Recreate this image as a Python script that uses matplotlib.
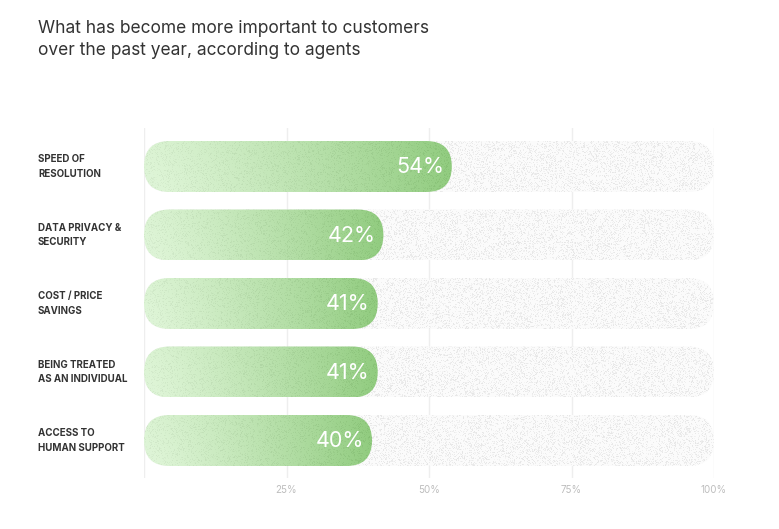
import numpy as np
import matplotlib
matplotlib.use("Agg")
import matplotlib.pyplot as plt
from matplotlib.patches import FancyBboxPatch

categories = ["SPEED OF\nRESOLUTION", "DATA PRIVACY &\nSECURITY", "COST / PRICE\nSAVINGS",
              "BEING TREATED\nAS AN INDIVIDUAL", "ACCESS TO\nHUMAN SUPPORT"]
values = [54, 42, 41, 41, 40]
tick_values = [25, 50, 75, 100]
tick_labels = ["25%", "50%", "75%", "100%"]
title = "What has become more important to customers\nover the past year, according to agents"

plt.rcParams['font.family'] = ['Inter', 'DejaVu Sans']

W, H = 779, 529
fig = plt.figure(figsize=(W / 100, H / 100), dpi=100)
# axes spans 0..100% from x=144 to x=714 px, rows from y=128 to y=478 px
ax = fig.add_axes([144 / W, (H - 478) / H, 570 / W, 350 / H])
n = len(categories)
ax.set_xlim(0, 100)
ax.set_ylim(n - 1 + 37.5 / 68.5, -38.5 / 68.5)
ax.axis("off")

xpx = 570 / 100.0          # px per x unit
ypx = 68.5                 # px per y unit
bar_h = 51 / ypx
r = 25.5 / xpx
aspect = (1 / ypx) / (1 / xpx)

for g in [0, 25, 50, 75, 100]:
    ax.axvline(g, color="#eeeeee", lw=1, zorder=0)

rng = np.random.default_rng(3)


def rounded(x0, w, yc):
    p = FancyBboxPatch((x0, yc - bar_h / 2), w, bar_h,
                       boxstyle=f"round,pad=0,rounding_size={r}",
                       mutation_aspect=aspect, facecolor="none", edgecolor="none")
    ax.add_patch(p)
    return p


for i, (cat, v) in enumerate(zip(categories, values)):
    # grey speckled track
    track = rounded(0, 100, i)
    nw, nh = 570, 51
    base = np.full((nh, nw, 3), 0.985)
    speck = rng.random((nh, nw)) < 0.3
    shade = 0.90 + 0.06 * rng.random((nh, nw))
    base[speck] = shade[speck][:, None]
    im = ax.imshow(base, extent=(0, 100, i + bar_h / 2, i - bar_h / 2),
                   aspect="auto", interpolation="nearest", zorder=1)
    im.set_clip_path(track)

    # green gradient bar
    bar = rounded(0, v, i)
    gw = int(v * xpx)
    t = np.linspace(0, 1, gw)[None, :]
    s = np.linspace(0, 1, nh)[:, None]
    left = np.array([0.87, 0.96, 0.84])
    right = np.array([0.57, 0.80, 0.50])
    mix = np.clip(t ** 1.2 + 0.08 * (0.5 - s) * (1 - t), 0, 1)[..., None]
    grad = left * (1 - mix) + right * mix
    noise = (rng.random((nh, gw)) < 0.3) * (0.05 * rng.random((nh, gw)))
    grad = np.clip(grad - noise[..., None], 0, 1)
    im2 = ax.imshow(grad, extent=(0, v, i + bar_h / 2, i - bar_h / 2),
                    aspect="auto", interpolation="nearest", zorder=2)
    im2.set_clip_path(bar)

    ax.text(v - 8 / xpx, i + 0.01, f"{v}%", ha="right", va="center",
            color="white", fontsize=15.5, zorder=3)
    fig.text(38 / W, 1 - (166.5 + 68.5 * i) / H, cat, ha="left", va="center",
             fontsize=7, fontweight="bold", color="#333333", linespacing=1.55)

for tv, tl in zip(tick_values, tick_labels):
    ax.text(tv, n - 1 + 37.5 / 68.5 + 12 / ypx, tl, ha="center", va="center",
            fontsize=7, color="#bdbdbd")

fig.text(38 / W, 1 - 20 / H, title, ha="left", va="top", fontsize=12.5,
         color="#333333", linespacing=1.35)

fig.savefig("out.png", dpi=100, facecolor="white")
